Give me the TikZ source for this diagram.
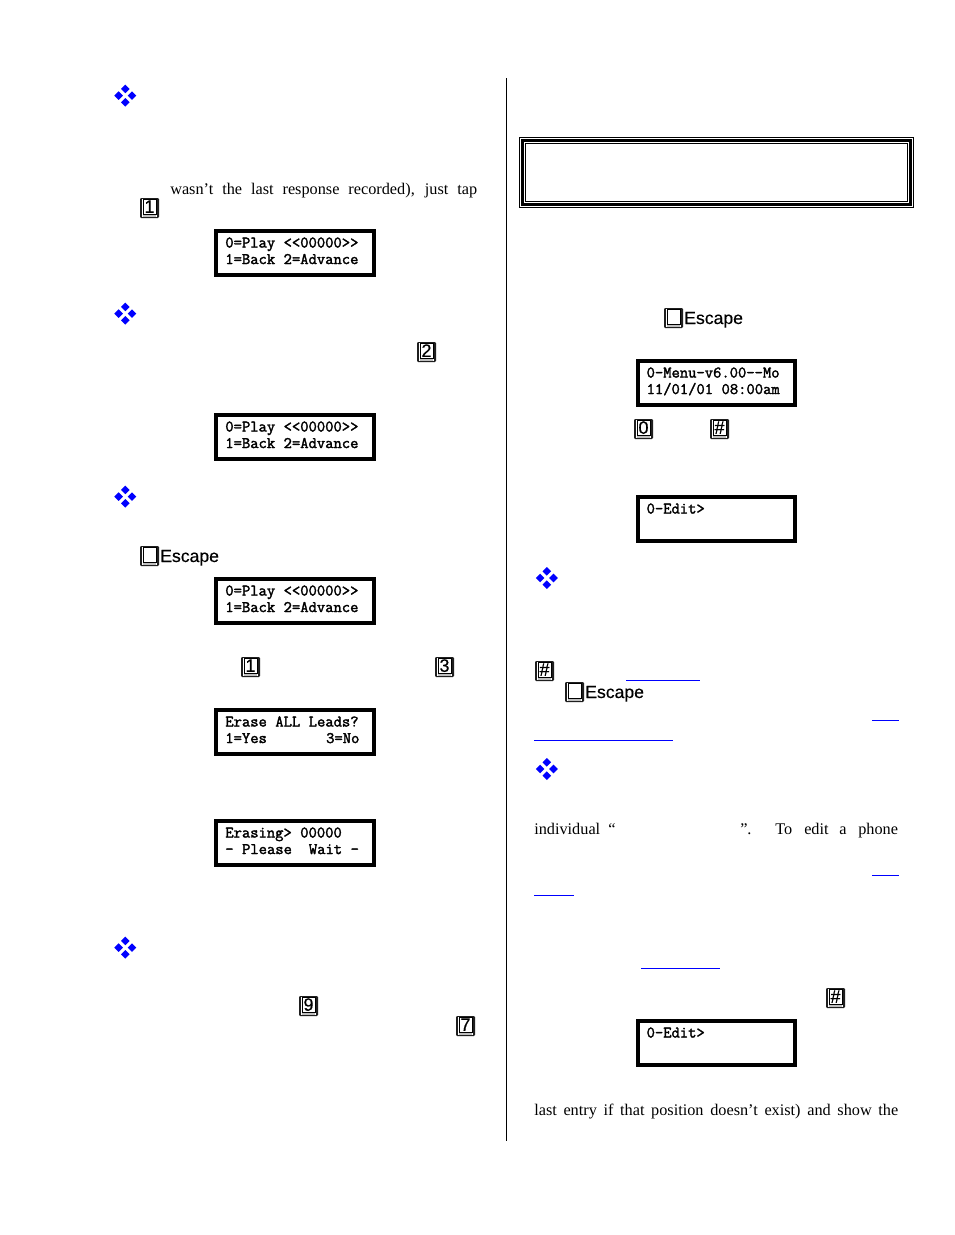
\documentclass[tikz,border=0pt]{standalone}
\usepackage{fontspec}
\setmainfont{Liberation Serif}
\newfontfamily\escfont{Liberation Sans}[FakeBold=0.4]
\newfontfamily\lcdfont{Latin Modern Mono}[FakeBold=2]
\definecolor{linkblue}{RGB}{0,0,255}
\tikzset{
  lcd/.style={draw=black,line width=3pt,fill=white,minimum width=118pt,minimum height=33pt,inner sep=0pt},
  body/.style={anchor=base west,inner sep=0pt,font=\fontsize{12.2}{15}\selectfont},
  esc/.style={anchor=base west,inner sep=0pt,font=\escfont\fontsize{13.2}{15}\selectfont},
  keyglyph/.style={inner sep=0pt,font=\escfont\fontsize{13.5}{14}\selectfont},
  linkline/.style={draw=linkblue,line width=0.75pt},
  bulletmark/.style={fill=linkblue,draw=none}
}
\newcommand{\lcdtext}[2]{\vbox{\lcdfont\fontsize{12.1}{12.4}\selectfont
  \spaceskip=0.525em\xspaceskip=0.525em
  \hbox to 104.5pt{\strut #1\hfil}\hbox to 104.5pt{\strut #2\hfil}\vskip 0.8pt}}
\newcommand{\keycap}[4]{%
  \begin{scope}[shift={(#2,#3)}]
    \fill[black!88,rounded corners=0.8pt] (0,0) rectangle (19,20);
    \fill[white] (1.6,1.2) rectangle (17.4,18.6);
    \fill[black!25] (3,16.6) rectangle (16,18.6);
    \draw[fill=white,line width=0.7pt] (3,1.2) rectangle (16,16);
    \node[keyglyph] (#1) at (9.5,8.6) {#4};
  \end{scope}}
\newcommand{\bulletgroup}[2]{%
  \begin{scope}[shift={(#1,#2)}]
    \foreach \dx/\dy in {0/-6.7,-6.7/0,6.7/0,0/6.7}
      \fill[bulletmark] (\dx-4.3,\dy) -- (\dx,\dy-4.3) -- (\dx+4.3,\dy) -- (\dx,\dy+4.3) -- cycle;
  \end{scope}}
\begin{document}
\begin{tikzpicture}[x=0.75pt,y=-0.75pt]
\useasboundingbox[fill=white] (0,0) rectangle (954,1235);

% column rule
\coordinate (ruletop) at (506.5,78);
\coordinate (rulebot) at (506.5,1141);
\draw[line width=0.75pt] (ruletop) -- (rulebot);

% bullets
\bulletgroup{125.3}{95.6}
\bulletgroup{125.3}{313.6}
\bulletgroup{125.3}{496.6}
\bulletgroup{125.3}{947.6}
\bulletgroup{546.8}{578}
\bulletgroup{546.8}{769}

% title frame
\draw[line width=0.75pt] (519.5,137.5) rectangle (913.5,207.5);
\draw[line width=1.6pt] (522.5,140.5) rectangle (910.5,204.5);
\draw[line width=0.75pt] (525.5,143.5) rectangle (907.8,201.8);

% left text
\node[body] (t1) at (170,194) {\makebox[230.25pt][s]{wasn’t the last response recorded), just tap}};

% LCD boxes
\node[lcd] (lcd1) at (295,253) {\lcdtext{0=Play <{}<00000>{}>}{1=Back 2=Advance}};
\node[lcd] (lcd2) at (295,437) {\lcdtext{0=Play <{}<00000>{}>}{1=Back 2=Advance}};
\node[lcd] (lcd3) at (295,601) {\lcdtext{0=Play <{}<00000>{}>}{1=Back 2=Advance}};
\node[lcd] (lcd4) at (295,732) {\lcdtext{Erase ALL Leads?}{1=Yes\ \ \ \ \ \ \ 3=No}};
\node[lcd] (lcd5) at (295,843) {\lcdtext{Erasing> 00000}{- Please\ \ Wait -}};
\node[lcd] (lcd6) at (716.3,383) {\lcdtext{0-Menu-v6.00-{}-Mo}{11/01/01 08:00am}};
\node[lcd] (lcd7) at (716.3,519) {\lcdtext{0-Edit>}{}};
\node[lcd] (lcd8) at (716.3,1043) {\lcdtext{0-Edit>}{}};

% keys
\keycap{k1}{140}{198}{1}
\keycap{k2}{417}{342}{2}
\keycap{k3}{241}{657}{1}
\keycap{k4}{435}{657}{3}
\keycap{k5}{299}{996}{9}
\keycap{k6}{456}{1016}{7}
\keycap{k7}{634}{419}{0}
\keycap{k8}{710}{419}{\#}
\keycap{k9}{535}{661}{\#}
\keycap{k10}{826}{988}{\#}

% escape keys
\keycap{e1}{140}{546}{}
\node[esc] (esc1) at (160,562) {Escape};
\keycap{e2}{664}{308}{}
\node[esc] (esc2) at (684,324) {Escape};
\keycap{e3}{565}{682}{}
\node[esc] (esc3) at (585,698) {Escape};

% link underlines
\coordinate (l1a) at (626,680.2); \coordinate (l1b) at (700,680.2);
\coordinate (l2a) at (872,720);   \coordinate (l2b) at (899,720);
\coordinate (l3a) at (534,740);   \coordinate (l3b) at (673,740);
\coordinate (l4a) at (872,875);   \coordinate (l4b) at (899,875);
\coordinate (l5a) at (534,895);   \coordinate (l5b) at (574,895);
\coordinate (l6a) at (641,968.5); \coordinate (l6b) at (720,968.5);
\draw[linkline] (l1a) -- (l1b);
\draw[linkline] (l2a) -- (l2b);
\draw[linkline] (l3a) -- (l3b);
\draw[linkline] (l4a) -- (l4b);
\draw[linkline] (l5a) -- (l5b);
\draw[linkline] (l6a) -- (l6b);

% right text
\node[body] (t2) at (534,834) {individual};
\node[body] (t3) at (608,834) {“};
\node[body] (t4) at (740,834) {”.};
\node[body] (t5) at (775,834) {To};
\node[body] (t6) at (804,834) {edit};
\node[body] (t7) at (839,834) {a};
\node[body] (t8) at (858,834) {phone};
\node[body] (t9) at (534,1115) {\makebox[273pt][s]{last entry if that position doesn’t exist) and show the}};
\end{tikzpicture}
\end{document}
